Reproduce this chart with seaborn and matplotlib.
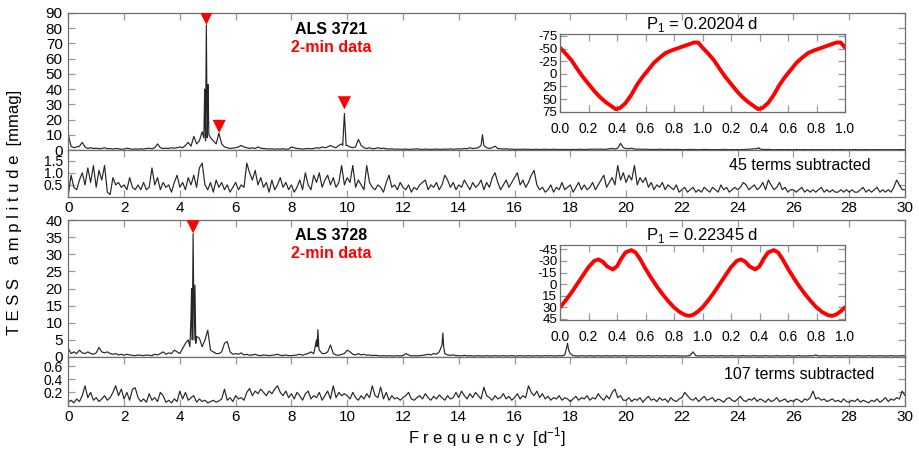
"""
TESS periodograms of ALS 3721 and ALS 3728 with phased light curves (insets).
"""

import numpy as np
import pandas as pd
import matplotlib
matplotlib.use("Agg")
import matplotlib.pyplot as plt
import seaborn as sns

# ============================================================
# DATA
# ============================================================
# frequency grid of the tabulated periodograms [d^-1], step 0.1
FREQ_MIN, FREQ_MAX, N_FREQ = 0.0, 30.0, 301

# ---- ALS 3721: amplitude spectrum [mmag]
als3721_amp = [
    10, 2.5, 1.5, 2, 2.5, 5, 2, 1, 1.5, 1, 1.2, 0.8, 1, 1.5, 0.8, 1, 0.6, 1, 0.8, 0.5,
    0.6, 1.2, 0.8, 0.5, 0.7, 0.5, 0.8, 0.6, 1, 1.2, 0.8, 1.5, 4, 1.5, 1, 1.2, 1, 1.5, 1.2, 1.5,
    2, 1.5, 3, 5, 2.5, 9, 4, 6, 12, 25, 25, 8, 6, 4, 11, 4, 2, 1.5, 1, 1.2,
    1.5, 2, 3, 2, 1.5, 1, 1.5, 1, 2, 1.2, 1, 0.8, 0.6, 0.8, 0.5, 0.7, 0.6, 0.8, 0.5, 0.6,
    2, 1.5, 1, 0.8, 0.6, 0.8, 1, 0.7, 1, 1.5, 1.2, 2, 1.5, 2, 3, 2, 1.5, 3, 4, 24,
    3, 2, 1.5, 2, 7, 3, 1.5, 1, 1.5, 0.8, 1, 1.5, 1, 1.2, 0.8, 0.6, 0.8, 0.5, 0.6, 0.5,
    0.5, 0.6, 0.4, 0.5, 0.6, 0.8, 0.5, 0.4, 0.6, 0.5, 0.4, 0.5, 0.6, 0.4, 0.5, 0.6, 0.5, 0.7, 0.5, 0.6,
    0.8, 0.6, 1, 0.8, 1.5, 1, 1.2, 1.5, 3, 3, 1.5, 1, 1.5, 2.5, 1, 0.8, 0.6, 0.8, 0.5, 0.6,
    0.4, 0.5, 0.4, 0.6, 0.4, 0.5, 0.3, 0.4, 0.5, 0.3, 0.4, 0.5, 0.4, 0.3, 0.5, 0.4, 0.3, 0.4, 0.3, 0.4,
    0.3, 0.4, 0.3, 0.5, 0.4, 0.3, 0.4, 0.5, 0.6, 0.5, 0.5, 0.6, 0.4, 0.5, 0.8, 1, 0.6, 1.2, 4.4, 1.5,
    1, 0.8, 1.2, 0.6, 0.5, 0.6, 0.4, 0.5, 0.4, 0.3, 0.4, 0.3, 0.5, 0.4, 0.3, 0.4, 0.3, 0.3, 0.4, 0.3,
    0.3, 0.2, 0.3, 0.4, 0.3, 0.3, 0.2, 0.3, 0.4, 0.3, 0.3, 0.2, 0.3, 0.2, 0.3, 0.4, 0.3, 0.2, 0.3, 0.2,
    0.3, 0.2, 0.3, 0.4, 0.5, 0.6, 0.8, 0.8, 0.6, 0.4, 0.3, 0.4, 0.3, 0.2, 0.3, 0.2, 0.3, 0.2, 0.3, 0.2,
    0.2, 0.3, 0.2, 0.2, 0.3, 0.2, 0.2, 0.3, 0.2, 0.2, 0.3, 0.2, 0.2, 0.2, 0.3, 0.2, 0.2, 0.3, 0.2, 0.2,
    0.2, 0.2, 0.3, 0.2, 0.2, 0.2, 0.3, 0.2, 0.2, 0.2, 0.3, 0.2, 0.2, 0.2, 0.3, 0.2, 0.2, 0.2, 0.3, 0.2,
    0.2,
]
# fine structure of the strongest peaks (off-grid frequencies)
als3721_peak_f = [4.86, 4.89, 4.92, 4.95, 4.98, 5.01, 5.04, 9.84, 9.87, 9.93, 9.96, 14.85, 24.75]
als3721_peak_a = [8, 40, 6, 82, 8, 43, 10, 3, 13, 14, 3, 10, 1.6]
# marked frequencies (red triangles): frequency, marker height
als3721_mark_f = [4.95, 5.41, 9.90]
als3721_mark_a = [86.5, 15.5, 31]

# ---- ALS 3721: residual spectrum after 45 terms [mmag]
als3721_res = [
    0.1, 0.9, 0.4, 0.3, 0.7, 1.0, 0.5, 1.2, 0.6, 1.3, 0.4, 1.1, 0.7, 1.3, 0.2, 0.1, 0.8, 0.5, 0.6, 0.4,
    0.5, 0.3, 0.8, 0.4, 0.3, 0.5, 0.3, 0.6, 0.3, 0.4, 1.2, 0.5, 0.8, 0.3, 0.6, 0.4, 0.5, 0.2, 0.6, 0.9,
    0.4, 0.6, 0.3, 0.8, 0.5, 0.9, 0.4, 1.2, 1.4, 0.5, 0.3, 0.6, 0.2, 0.7, 0.4, 0.6, 0.3, 0.5, 0.2, 0.4,
    0.6, 0.3, 0.5, 0.4, 1.4, 1.0, 0.7, 1.1, 0.5, 0.8, 0.4, 0.6, 0.2, 0.7, 0.3, 0.5, 0.8, 0.4, 0.6, 0.3,
    0.5, 0.2, 0.4, 0.7, 0.3, 1.0, 0.5, 0.3, 0.9, 0.6, 1.0, 0.4, 0.7, 0.9, 0.5, 0.8, 0.4, 0.6, 1.3, 0.5,
    0.8, 0.6, 1.3, 0.4, 0.7, 0.5, 0.3, 1.3, 0.6, 0.4, 0.3, 0.5, 0.4, 0.2, 0.6, 0.9, 0.4, 0.5, 0.3, 0.6,
    0.4, 0.3, 0.5, 0.2, 0.4, 0.3, 0.5, 0.6, 0.7, 0.3, 0.5, 0.4, 0.6, 0.3, 0.5, 0.9, 0.7, 0.4, 0.6, 0.3,
    0.5, 0.4, 0.7, 0.5, 0.3, 0.6, 0.4, 0.5, 0.7, 0.3, 0.6, 0.4, 0.8, 1.0, 0.6, 0.3, 0.5, 0.7, 0.4, 0.6,
    0.8, 1.0, 0.5, 0.7, 0.4, 0.6, 0.9, 1.1, 0.5, 0.3, 0.4, 0.2, 0.3, 0.5, 0.2, 0.4, 0.3, 0.6, 0.3, 0.4,
    0.5, 0.2, 0.4, 0.6, 0.3, 0.5, 0.3, 0.4, 0.6, 0.3, 0.5, 0.7, 0.9, 0.4, 0.6, 0.8, 0.5, 1.3, 0.7, 1.0,
    0.6, 0.9, 0.7, 1.3, 0.5, 0.8, 0.6, 0.8, 0.4, 0.6, 0.3, 0.5, 0.4, 0.6, 0.3, 0.5, 0.4, 0.3, 0.5, 0.2,
    0.3, 0.4, 0.2, 0.3, 0.4, 0.2, 0.3, 0.2, 0.4, 0.3, 0.2, 0.4, 0.3, 0.2, 0.5, 0.3, 0.4, 0.2, 0.3, 0.4,
    0.3, 0.4, 0.6, 0.5, 0.3, 0.4, 0.5, 0.3, 0.4, 0.6, 0.3, 0.7, 0.5, 0.3, 0.4, 0.6, 0.3, 0.4, 0.2, 0.3,
    0.3, 0.2, 0.3, 0.4, 0.2, 0.3, 0.2, 0.3, 0.2, 0.3, 0.4, 0.2, 0.3, 0.2, 0.3, 0.2, 0.2, 0.3, 0.2, 0.3,
    0.2, 0.3, 0.2, 0.2, 0.3, 0.4, 0.2, 0.3, 0.2, 0.3, 0.4, 0.2, 0.3, 0.2, 0.3, 0.2, 0.4, 0.7, 0.5, 0.3,
    0.3,
]

# ---- ALS 3728: amplitude spectrum [mmag]
als3728_amp = [
    2.5, 1, 1.5, 1, 2, 1.2, 1, 1.5, 1, 0.8, 1.2, 2.8, 1.5, 1.2, 1.5, 1, 0.8, 1, 0.6, 0.8,
    0.5, 0.8, 0.6, 0.5, 0.4, 0.6, 0.5, 0.4, 0.6, 0.5, 0.4, 0.8, 0.6, 1, 1.5, 0.8, 1.2, 1, 2, 1.5,
    1, 2.5, 4, 5, 12, 12, 6, 5.5, 3, 5, 7.8, 2, 1.5, 1, 1, 1.5, 4, 4.5, 1.5, 0.8,
    1, 0.8, 1.2, 0.6, 0.8, 0.5, 0.6, 0.8, 0.5, 0.4, 0.6, 0.5, 0.4, 0.5, 0.6, 0.8, 0.5, 0.4, 0.6, 0.4,
    0.4, 0.5, 0.6, 0.8, 0.5, 0.8, 1, 1.5, 1, 5, 2, 1, 1, 1.5, 3.5, 1, 0.6, 0.5, 0.8, 1,
    2, 1.5, 0.8, 0.6, 1, 0.6, 0.8, 0.5, 0.6, 0.4, 0.5, 0.4, 0.3, 0.4, 0.3, 0.4, 0.3, 0.3, 0.4, 0.3,
    0.4, 1, 0.6, 0.3, 0.4, 0.3, 0.4, 0.5, 0.6, 0.8, 0.6, 1, 0.8, 1.5, 3.5, 1, 0.6, 0.5, 0.6, 0.4,
    0.4, 0.3, 0.5, 0.3, 0.4, 0.3, 0.3, 0.4, 0.3, 0.3, 0.4, 0.3, 0.3, 0.4, 0.3, 0.3, 0.4, 0.3, 0.3, 0.4,
    0.3, 0.3, 0.4, 0.3, 0.3, 0.4, 0.3, 0.3, 0.4, 0.3, 0.3, 0.4, 0.3, 0.4, 0.3, 0.3, 0.4, 0.3, 0.6, 4,
    1, 0.4, 0.3, 0.3, 0.4, 0.3, 0.3, 0.4, 0.3, 0.3, 0.4, 0.3, 0.3, 0.4, 0.3, 0.3, 0.4, 0.3, 0.3, 0.4,
    0.3, 0.3, 0.4, 0.3, 0.3, 0.4, 0.3, 0.3, 0.4, 0.3, 0.3, 0.4, 0.3, 0.3, 0.4, 0.3, 0.3, 0.4, 0.3, 0.3,
    0.3, 0.3, 0.3, 0.5, 1.5, 0.4, 0.3, 0.3, 0.4, 0.3, 0.3, 0.4, 0.3, 0.3, 0.4, 0.3, 0.3, 0.3, 0.4, 0.3,
    0.3, 0.3, 0.4, 0.3, 0.3, 0.3, 0.4, 0.3, 0.3, 0.3, 0.4, 0.3, 0.3, 0.3, 0.4, 0.3, 0.3, 0.3, 0.4, 0.3,
    0.3, 0.3, 0.4, 0.3, 0.3, 0.3, 0.4, 0.3, 0.6, 0.3, 0.3, 0.4, 0.3, 0.3, 0.3, 0.4, 0.3, 0.3, 0.3, 0.4,
    0.3, 0.3, 0.3, 0.4, 0.3, 0.3, 0.3, 0.4, 0.3, 0.3, 0.3, 0.4, 0.3, 0.3, 0.3, 0.4, 0.3, 0.3, 0.3, 0.4,
    0.3,
]
als3728_peak_f = [4.36, 4.42, 4.445, 4.475, 4.51, 4.54, 4.57, 8.92, 8.95, 8.98, 13.43, 13.46, 17.86, 17.94]
als3728_peak_a = [3, 20, 5, 36, 5, 21, 4, 3, 8, 3, 7, 3, 2.5, 2]
als3728_mark_f = [4.475]
als3728_mark_a = [38]

# ---- ALS 3728: residual spectrum after 107 terms [mmag]
als3728_res = [
    0.05, 0.08, 0.04, 0.1, 0.06, 0.15, 0.3, 0.12, 0.2, 0.08, 0.12, 0.06, 0.1, 0.15, 0.08, 0.12, 0.2, 0.3, 0.15, 0.25,
    0.1, 0.2, 0.08, 0.25, 0.27, 0.12, 0.06, 0.1, 0.05, 0.18, 0.08, 0.12, 0.06, 0.2, 0.15, 0.05, 0.08, 0.04, 0.1, 0.06,
    0.22, 0.1, 0.2, 0.08, 0.12, 0.15, 0.05, 0.1, 0.06, 0.08, 0.04, 0.06, 0.08, 0.05, 0.07, 0.1, 0.25, 0.08, 0.12, 0.06,
    0.15, 0.1, 0.12, 0.08, 0.2, 0.26, 0.15, 0.22, 0.18, 0.25, 0.2, 0.15, 0.22, 0.18, 0.25, 0.3, 0.2, 0.15, 0.22, 0.12,
    0.18, 0.1, 0.2, 0.15, 0.08, 0.18, 0.22, 0.1, 0.15, 0.12, 0.2, 0.08, 0.15, 0.22, 0.1, 0.3, 0.12, 0.2, 0.15, 0.18,
    0.15, 0.1, 0.2, 0.12, 0.08, 0.15, 0.1, 0.18, 0.12, 0.3, 0.15, 0.12, 0.28, 0.1, 0.2, 0.08, 0.15, 0.1, 0.12, 0.08,
    0.12, 0.15, 0.2, 0.1, 0.08, 0.12, 0.15, 0.1, 0.18, 0.12, 0.08, 0.14, 0.1, 0.16, 0.12, 0.08, 0.15, 0.1, 0.12, 0.2,
    0.12, 0.22, 0.15, 0.1, 0.18, 0.12, 0.2, 0.15, 0.1, 0.28, 0.15, 0.12, 0.08, 0.15, 0.1, 0.12, 0.18, 0.1, 0.14, 0.08,
    0.12, 0.18, 0.1, 0.15, 0.12, 0.3, 0.2, 0.15, 0.22, 0.12, 0.18, 0.1, 0.14, 0.08, 0.12, 0.1, 0.15, 0.08, 0.12, 0.1,
    0.06, 0.1, 0.14, 0.08, 0.12, 0.1, 0.15, 0.08, 0.12, 0.1, 0.18, 0.12, 0.08, 0.15, 0.1, 0.2, 0.25, 0.12, 0.15, 0.08,
    0.08, 0.12, 0.06, 0.1, 0.08, 0.12, 0.05, 0.1, 0.14, 0.08, 0.1, 0.06, 0.12, 0.08, 0.1, 0.05, 0.12, 0.08, 0.06, 0.1,
    0.12, 0.2, 0.15, 0.1, 0.08, 0.12, 0.06, 0.1, 0.14, 0.08, 0.1, 0.12, 0.06, 0.1, 0.08, 0.05, 0.1, 0.12, 0.08, 0.06,
    0.1, 0.14, 0.08, 0.06, 0.1, 0.08, 0.12, 0.06, 0.1, 0.08, 0.05, 0.1, 0.06, 0.08, 0.12, 0.06, 0.08, 0.1, 0.05, 0.08,
    0.06, 0.1, 0.08, 0.05, 0.1, 0.08, 0.12, 0.22, 0.1, 0.12, 0.08, 0.1, 0.06, 0.08, 0.1, 0.06, 0.08, 0.05, 0.1, 0.06,
    0.05, 0.08, 0.06, 0.1, 0.05, 0.08, 0.06, 0.04, 0.08, 0.06, 0.1, 0.05, 0.08, 0.12, 0.06, 0.1, 0.08, 0.12, 0.1, 0.22,
    0.15,
]

# ---- phased light curves (one cycle; drawn twice) [mmag]
als3721_phase = [0.00, 0.04, 0.08, 0.12, 0.16, 0.20, 0.24, 0.28, 0.32, 0.36, 0.39, 0.42, 0.46, 0.50,
                 0.54, 0.58, 0.62, 0.66, 0.70, 0.74, 0.78, 0.82, 0.86, 0.90, 0.94, 0.97, 1.00]
als3721_mag = [-52, -40, -27, -10, 6, 20, 34, 46, 56, 64, 70, 68, 58, 42,
               22, 6, -8, -22, -32, -41, -46, -50, -54, -58, -62, -62, -52]
als3728_phase = [0.00, 0.04, 0.08, 0.12, 0.16, 0.20, 0.24, 0.27, 0.30, 0.33, 0.37, 0.40, 0.43, 0.46, 0.50,
                 0.53, 0.56, 0.60, 0.64, 0.68, 0.72, 0.76, 0.80, 0.84, 0.88, 0.91, 0.94, 0.97, 1.00]
als3728_mag = [30, 21, 11, 0, -11, -22, -30, -32, -29, -23, -19, -23, -33, -41, -44,
               -41, -33, -20, -8, 3, 13, 22, 30, 36, 40, 41, 39, 35, 30]

freq_ticks = list(range(0, 31, 2))
phase_ticks = [0.0, 0.2, 0.4, 0.6, 0.8, 1.0, 1.2, 1.4, 1.6, 1.8, 2.0]
phase_ticklabels = ["0.0", "0.2", "0.4", "0.6", "0.8", "1.0", "0.2", "0.4", "0.6", "0.8", "1.0"]

# ============================================================
# STYLE
# ============================================================
sns.set_theme(style="ticks")
plt.rcParams['font.family'] = ['Liberation Sans', 'DejaVu Sans']
plt.rcParams['mathtext.fontset'] = 'custom'
plt.rcParams['mathtext.rm'] = 'Liberation Sans'
plt.rcParams['text.color'] = 'black'
plt.rcParams['axes.titlecolor'] = 'black'

W, H = 919, 453
FRAME = "#6e6e6e"
TICK = "#9a9a9a"
LINE = "#262626"

fig = plt.figure(figsize=(W / 100, H / 100), dpi=100)


def add_ax(left, top, right, bottom):
    """Axes from pixel edges of the reference image."""
    return fig.add_axes([left / W, 1 - bottom / H, (right - left) / W, (bottom - top) / H])


def style_frame(ax, labelsize=11):
    for sp in ax.spines.values():
        sp.set_color(FRAME)
        sp.set_linewidth(0.9)
    ax.tick_params(which="both", direction="in", length=5, width=0.9,
                   top=True, right=True, labelsize=labelsize, pad=4,
                   color=TICK, labelcolor="black")


def spectrum(amp, peak_f=None, peak_a=None):
    grid = np.linspace(FREQ_MIN, FREQ_MAX, N_FREQ)
    assert len(amp) == N_FREQ
    f = grid
    a = np.asarray(amp, dtype=float)
    if peak_f is not None:
        f = np.concatenate([f, peak_f])
        a = np.concatenate([a, peak_a])
    order = np.argsort(f, kind="stable")
    return pd.DataFrame({"freq": f[order], "amp": a[order]})


def draw_panel(top_px, main_amp, peak_f, peak_a, mark_f, mark_a, ymax, yticks,
               res_amp, res_max, res_ticks, name, terms_text, terms_y,
               name_y, data_y, phase, mag, ylim_lc, lc_ticks, period_text,
               inset_px):
    main_bottom = top_px + 137
    res_bottom = main_bottom + (47 if res_max > 1 else 48.5)
    ax = add_ax(68.3, top_px, 905, main_bottom)
    rax = add_ax(68.3, main_bottom, 905, res_bottom)

    # --- main amplitude spectrum
    df = spectrum(main_amp, peak_f, peak_a)
    sns.lineplot(data=df, x="freq", y="amp", ax=ax, color=LINE, lw=0.85,
                 estimator=None, sort=False)
    sns.scatterplot(x=mark_f, y=mark_a, ax=ax, marker="v", color="#ff0000",
                    s=90, edgecolor="none", zorder=5)
    ax.set_xlim(0, 30)
    ax.set_ylim(0, ymax)
    ax.set_yticks(yticks)
    ax.set_xticks(freq_ticks)
    ax.set_xticklabels([])
    ax.set_xlabel("")
    ax.set_ylabel("")
    style_frame(ax)
    ax.tick_params(axis="x", bottom=False)
    ax.text(0.314, name_y, name, transform=ax.transAxes, ha="center", va="center",
            fontsize=11.5, fontweight="bold", color="black")
    ax.text(0.314, data_y, "2-min data", transform=ax.transAxes, ha="center", va="center",
            fontsize=11.5, fontweight="bold", color="#ff0000")

    # --- residual spectrum
    rdf = spectrum(res_amp)
    sns.lineplot(data=rdf, x="freq", y="amp", ax=rax, color=LINE, lw=0.85,
                 estimator=None, sort=False)
    rax.set_xlim(0, 30)
    rax.set_ylim(0, res_max)
    rax.set_yticks(res_ticks)
    rax.set_yticklabels([f"{t:.1f}" for t in res_ticks])
    rax.set_xticks(freq_ticks)
    rax.set_xticklabels([str(t) for t in freq_ticks])
    rax.set_xlabel("")
    rax.set_ylabel("")
    style_frame(rax)
    rax.tick_params(axis="x", pad=3)
    rax.tick_params(axis="y", labelsize=10, pad=4)
    rax.text(0.874, terms_y, terms_text, transform=rax.transAxes, ha="center",
             va="center", fontsize=11.5, color="black")

    # --- inset: phased light curve
    iax = add_ax(*inset_px)
    lc = pd.DataFrame({"phase": np.concatenate([phase, np.asarray(phase) + 1.0]),
                       "mag": np.concatenate([mag, mag])})
    sns.lineplot(data=lc, x="phase", y="mag", ax=iax, color="#ff0000", lw=2.8,
                 estimator=None, sort=False)
    iax.set_xlim(0, 2)
    iax.set_ylim(*ylim_lc)
    iax.set_xticks(phase_ticks)
    iax.set_xticklabels(phase_ticklabels)
    iax.set_yticks(lc_ticks)
    iax.set_yticklabels([str(t) for t in lc_ticks])
    iax.set_xlabel("")
    iax.set_ylabel("")
    iax.patch.set_alpha(0)
    style_frame(iax, labelsize=10)
    iax.tick_params(axis="x", pad=7)
    iax.tick_params(axis="y", labelsize=9.5, pad=2)
    iax.set_title(period_text, fontsize=12, pad=2, color="black")
    return ax, rax, iax


ax1, rax1, iax1 = draw_panel(
    13, als3721_amp, als3721_peak_f, als3721_peak_a, als3721_mark_f, als3721_mark_a,
    90, list(range(0, 91, 10)),
    als3721_res, 1.94, [0.5, 1.0, 1.5], "ALS 3721", "45 terms subtracted", 0.68,
    0.876, 0.747, als3721_phase, als3721_mag, (76.3, -78.3),
    [-75, -50, -25, 0, 25, 50, 75], "P$_1$ = 0.20204 d", (560, 34.3, 845, 112.3))

ax2, rax2, iax2 = draw_panel(
    220, als3728_amp, als3728_peak_f, als3728_peak_a, als3728_mark_f, als3728_mark_a,
    40, list(range(0, 41, 5)),
    als3728_res, 0.74, [0.2, 0.4, 0.6], "ALS 3728", "107 terms subtracted", 0.63,
    0.89, 0.757, als3728_phase, als3728_mag, (46.3, -50.6),
    [-45, -30, -15, 0, 15, 30, 45], "P$_1$ = 0.22345 d", (560, 245, 845, 320))

fig.text(487 / W, 1 - 437 / H, "F r e q u e n c y  [d$^{-1}$]", ha="center",
         va="center", fontsize=12)
fig.text(15 / W, 1 - 212 / H, "T E S S   a m p l i t u d e  [mmag]", ha="center",
         va="center", rotation=90, fontsize=12)

fig.savefig("out.png", dpi=100)
plt.close(fig)
